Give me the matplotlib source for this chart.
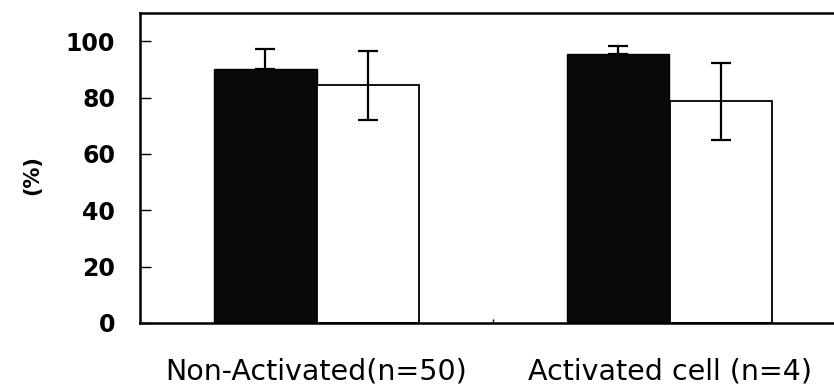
# Bar chart of two groups with error bars (dark vs. white series)

import numpy as np
import matplotlib
matplotlib.use("Agg")
import matplotlib.pyplot as plt

categories = ["Non-Activated(n=50)", "Activated cell (n=4)"]
darkValues = [90.2, 95.4]
darkErrors = [7.0, 2.8]
whiteValues = [84.3, 78.6]
whiteErrors = [12.2, 13.7]
yTicks = [0, 20, 40, 60, 80, 100]

plt.rcParams['font.family'] = ['DejaVu Sans']

fig = plt.figure(figsize=(8.34, 3.92), dpi=100)
ax = fig.add_axes([140/834, 69/392, 706/834, 310/392])

x = np.arange(len(categories))
width = 0.29
errStyle = dict(ecolor='black', elinewidth=1.6, capsize=7, capthick=1.6)

# lower half of the dark bars' error bar is hidden inside the bar
ax.bar(x - width/2, darkValues, width, color='#0a0a0a', edgecolor='black',
	   yerr=[[0]*len(darkErrors), darkErrors], error_kw=errStyle, zorder=2)
ax.bar(x + width/2, whiteValues, width, color='white', edgecolor='black',
	   linewidth=1.3, yerr=whiteErrors, error_kw=errStyle, zorder=2)

ax.set_xlim(-0.5, 1.5)
ax.set_ylim(0, 110)
ax.set_yticks(yTicks)
ax.set_yticklabels([str(t) for t in yTicks], fontsize=17, fontweight='bold')
ax.tick_params(axis='y', direction='in', length=8, width=1, pad=18)

ax.set_xticks(x)
ax.set_xticklabels(categories, fontsize=20.5)
ax.tick_params(axis='x', length=0, pad=25)
ax.set_xticks([0.5], minor=True)
ax.tick_params(axis='x', which='minor', direction='in', length=3, width=1)

ax.set_ylabel("(%)", fontsize=15, fontweight='bold')
ax.yaxis.set_label_coords(-0.139, 0.477)

for side in ['top', 'left', 'bottom', 'right']:
	ax.spines[side].set_linewidth(1.8)

fig.savefig("out.png", dpi=100)
